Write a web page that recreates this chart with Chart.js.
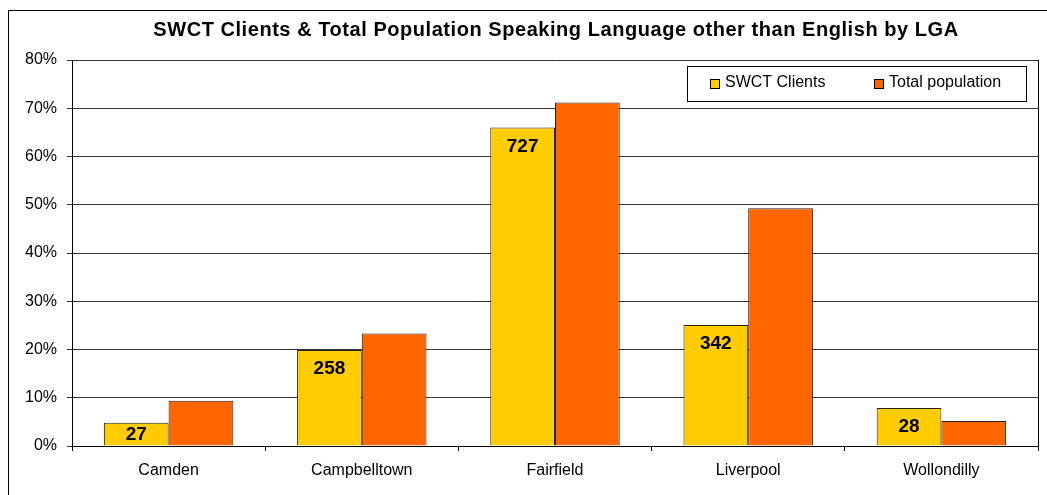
<!DOCTYPE html>
<html>
<head>
<meta charset="utf-8">
<script src="https://cdn.jsdelivr.net/npm/chart.js@4/dist/chart.umd.min.js"></script>
<style>
  html, body { margin: 0; padding: 0; background: #fff; }
  #wrap { width: 1047px; height: 495px; position: relative; }
</style>
</head>
<body>
<div id="wrap"><canvas id="myChart"></canvas></div>
<script>
// Dữ liệu biểu đồ
const categories = ['Camden', 'Campbelltown', 'Fairfield', 'Liverpool', 'Wollondilly'];
const clientPct = [4.8, 19.9, 66.0, 25.1, 7.9];
const populationPct = [9.4, 23.3, 71.2, 49.3, 5.2];
const clientCounts = [27, 258, 727, 342, 28];
const seriesNames = ['SWCT Clients', 'Total population'];
const yTicks = [0, 10, 20, 30, 40, 50, 60, 70, 80];
const chartTitle = 'SWCT Clients & Total Population Speaking Language other than English by LGA';

const FONT = 'Arial, "Liberation Sans", sans-serif';

// Khung ngoài, tiêu đề + viền phải của vùng vẽ
const framePlugin = {
  id: 'frame',
  beforeDraw(chart) {
    const ctx = chart.ctx;
    ctx.save();
    ctx.fillStyle = '#fff';
    ctx.fillRect(0, 0, chart.width, chart.height);
    ctx.strokeStyle = '#000';
    ctx.lineWidth = 1;
    ctx.strokeRect(8.5, 10.5, chart.width + 20, chart.height + 20);
    // tiêu đề
    ctx.font = 'bold 20px ' + FONT;
    if ('letterSpacing' in ctx) ctx.letterSpacing = '0.55px';
    ctx.fillStyle = '#000';
    ctx.textAlign = 'center';
    ctx.textBaseline = 'alphabetic';
    ctx.fillText(chartTitle, 556, 36);
    if ('letterSpacing' in ctx) ctx.letterSpacing = '0px';
    ctx.restore();
  },
  afterDatasetsDraw(chart) {
    const { ctx, chartArea } = chart;
    ctx.save();
    ctx.strokeStyle = '#000';
    ctx.lineWidth = 1;
    ctx.beginPath();
    ctx.moveTo(Math.round(chartArea.right) + 0.5, chartArea.top);
    ctx.lineTo(Math.round(chartArea.right) + 0.5, chartArea.bottom);
    ctx.stroke();
    ctx.restore();
  }
};

// Nhãn số lượng trong cột vàng
const countLabels = {
  id: 'countLabels',
  afterDatasetsDraw(chart) {
    const ctx = chart.ctx;
    const meta = chart.getDatasetMeta(0);
    ctx.save();
    ctx.font = 'bold 19px ' + FONT;
    ctx.fillStyle = '#000';
    ctx.textAlign = 'center';
    ctx.textBaseline = 'middle';
    meta.data.forEach((bar, i) => {
      const y = Math.min(bar.y + 19, (bar.y + bar.base) / 2 + 1);
      ctx.fillText(String(clientCounts[i]), bar.x, y);
    });
    ctx.restore();
  }
};

// Chú giải có khung trong vùng vẽ
const boxLegend = {
  id: 'boxLegend',
  afterDraw(chart) {
    const { ctx, chartArea } = chart;
    const right = chartArea.right - 12, top = chartArea.top + 6;
    const left = right - 339, h = 35;
    ctx.save();
    ctx.fillStyle = '#fff';
    ctx.fillRect(left, top, right - left, h);
    ctx.strokeStyle = '#000';
    ctx.lineWidth = 1;
    ctx.strokeRect(left + 0.5, top + 0.5, right - left, h);
    ctx.font = '16px ' + FONT;
    ctx.textBaseline = 'middle';
    ctx.textAlign = 'left';
    const xs = [left + 23, left + 187];
    chart.data.datasets.forEach((ds, i) => {
      ctx.fillStyle = ds.backgroundColor;
      ctx.fillRect(xs[i], top + 13, 9, 9);
      ctx.strokeStyle = '#000';
      ctx.strokeRect(xs[i] + 0.5, top + 13.5, 9, 9);
      ctx.fillStyle = '#000';
      ctx.fillText(ds.label, xs[i] + 15, top + 17);
    });
    ctx.restore();
  }
};

new Chart(document.getElementById('myChart'), {
  type: 'bar',
  data: {
    labels: categories,
    datasets: [
      {
        label: seriesNames[0],
        data: clientPct,
        backgroundColor: '#FFCC00',
        borderColor: '#222',
        borderWidth: 1,
        categoryPercentage: 0.67,
        barPercentage: 1
      },
      {
        label: seriesNames[1],
        data: populationPct,
        backgroundColor: '#FF6600',
        borderColor: '#222',
        borderWidth: 1,
        categoryPercentage: 0.67,
        barPercentage: 1
      }
    ]
  },
  options: {
    responsive: true,
    maintainAspectRatio: false,
    animation: false,
    layout: { padding: { left: 0, right: 9, top: 60, bottom: 0 } },
    plugins: {
      legend: { display: false },
      tooltip: { enabled: false },
      title: { display: false }
    },
    scales: {
      x: {
        grid: { display: true, drawOnChartArea: false, drawTicks: true, tickLength: 5, color: '#000', offset: true },
        border: { display: true, color: '#000' },
        ticks: { color: '#000', font: { family: FONT, size: 16 }, padding: 10, maxRotation: 0 },
        afterFit(scale) { scale.height = 49; }
      },
      y: {
        min: 0,
        max: 80,
        afterBuildTicks(scale) { scale.ticks = yTicks.map(v => ({ value: v })); },
        grid: { color: '#333', tickLength: 5, drawTicks: true },
        border: { display: true, color: '#000' },
        ticks: {
          color: '#000',
          font: { family: FONT, size: 16 },
          padding: 10,
          callback: v => v + '%'
        },
        afterFit(scale) { scale.width = 72; }
      }
    }
  },
  plugins: [framePlugin, countLabels, boxLegend]
});
</script>
</body>
</html>
